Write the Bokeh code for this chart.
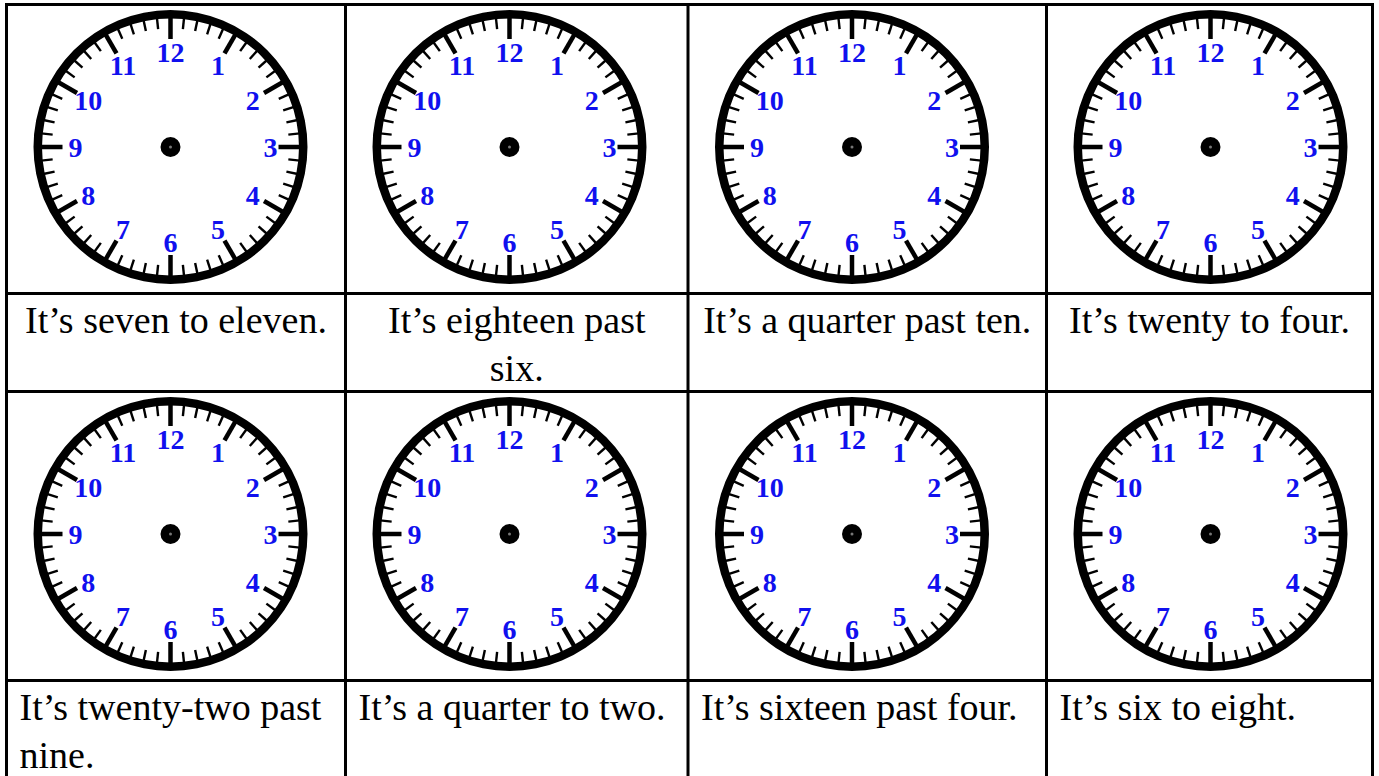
import math
from bokeh.plotting import figure
from bokeh.models import Range1d, ColumnDataSource
from bokeh.core.properties import value
from bokeh.embed import file_html
from bokeh.resources import INLINE

# ---------------- data ----------------
clock_numbers = ["12", "1", "2", "3", "4", "5", "6", "7", "8", "9", "10", "11"]
minute_marks = list(range(60))
captions_top = [["It’s seven to eleven."],
                ["It’s eighteen past", "six."],
                ["It’s a quarter past ten."],
                ["It’s twenty to four."]]
captions_bottom = [["It’s twenty-two past", "nine."],
                   ["It’s a quarter to two."],
                   ["It’s sixteen past four."],
                   ["It’s six to eight."]]

# ---------------- layout ----------------
W, H = 1379, 776
col_edges = [6, 345, 687.5, 1046, 1372]
row_edges = [4, 293, 391, 680]
clock_rows = [0, 2]
clock_dx, clock_dy = 164, 142.5
R_OUT, R_IN = 137, 128.5

p = figure(width=W, height=H, x_range=Range1d(0, W), y_range=Range1d(H, 0),
           output_backend="svg", toolbar_location=None, min_border=0,
           x_axis_location=None, y_axis_location=None)
p.grid.visible = False
p.outline_line_color = None
p.background_fill_color = "white"
p.border_fill_color = "white"

# clock centres
cx, cy = [], []
for r in clock_rows:
    for c in range(4):
        cx.append(col_edges[c] + clock_dx)
        cy.append(row_edges[r] + clock_dy)

# ring
p.annulus(x=cx, y=cy, inner_radius=R_IN, outer_radius=R_OUT,
          fill_color="black", line_color=None)

# ticks
hx0, hy0, hx1, hy1 = [], [], [], []
mx0, my0, mx1, my1 = [], [], [], []
for x, y in zip(cx, cy):
    for m in minute_marks:
        a = math.radians(m * 6)
        s, co = math.sin(a), math.cos(a)
        if m % 5 == 0:
            r0, r1 = 108, 130
            hx0.append(x + r0 * s); hy0.append(y - r0 * co)
            hx1.append(x + r1 * s); hy1.append(y - r1 * co)
        else:
            r0, r1 = 118.5, 130
            mx0.append(x + r0 * s); my0.append(y - r0 * co)
            mx1.append(x + r1 * s); my1.append(y - r1 * co)
p.segment(x0=hx0, y0=hy0, x1=hx1, y1=hy1, line_color="black", line_width=4.5)
p.segment(x0=mx0, y0=my0, x1=mx1, y1=my1, line_color="black", line_width=2.4)

# numbers
nx, ny, nt = [], [], []
for x, y in zip(cx, cy):
    for i, lab in enumerate(clock_numbers):
        a = math.radians(i * 30)
        rr = 100 if i == 3 else 95
        nx.append(x + rr * math.sin(a))
        ny.append(y - rr * math.cos(a) + 1)
        nt.append(lab)
p.text(x=nx, y=ny, text=nt, text_font=value("Liberation Serif"), text_font_style="bold",
       text_font_size="28px", text_color="#1010ee", text_align="center",
       text_baseline="middle")

# centre dot
p.scatter(x=cx, y=cy, size=20, marker="circle", fill_color="black", line_color=None)
p.scatter(x=cx, y=cy, size=3, marker="circle", fill_color="#777777", line_color=None)

# captions
LINE = 48
tx, ty, tt, ta = [], [], [], []
for c, lines in enumerate(captions_top):
    for k, line in enumerate(lines):
        tx.append((col_edges[c] + col_edges[c + 1]) / 2)
        ty.append(row_edges[1] + 26 + k * LINE)
        tt.append(line)
        ta.append("center")
for c, lines in enumerate(captions_bottom):
    for k, line in enumerate(lines):
        tx.append(col_edges[c] + 13)
        ty.append(row_edges[3] + 26 + k * LINE)
        tt.append(line)
        ta.append("left")
src = ColumnDataSource(dict(x=tx, y=ty, text=tt, align=ta))
p.text(x="x", y="y", text="text", text_align="align", source=src,
       text_font=value("Liberation Serif"), text_font_size="38px",
       text_color="black", text_baseline="alphabetic")

# table grid
vx0, vy0, vx1, vy1 = [], [], [], []
for x in col_edges:
    vx0.append(x); vy0.append(row_edges[0] - 1.5)
    vx1.append(x); vy1.append(H + 5)
for y in row_edges:
    vx0.append(col_edges[0] - 1.5); vy0.append(y)
    vx1.append(col_edges[-1] + 1.5); vy1.append(y)
p.segment(x0=vx0, y0=vy0, x1=vx1, y1=vy1, line_color="black", line_width=3)

open("out.html", "w").write(file_html(p, INLINE))
